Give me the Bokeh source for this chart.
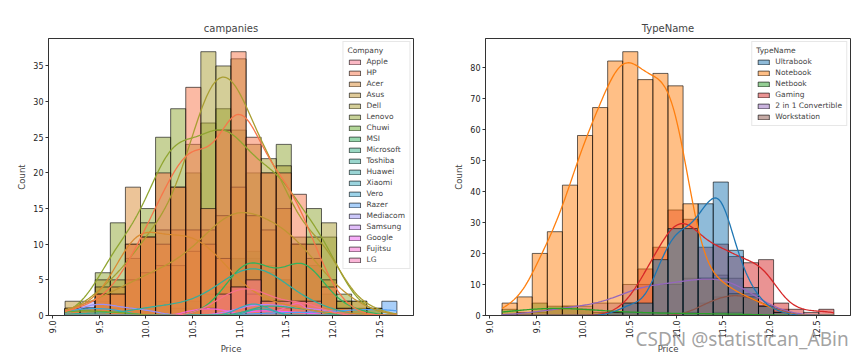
import math
import numpy as np
from bokeh.plotting import figure
from bokeh.layouts import row
from bokeh.models import FixedTicker, Legend, LegendItem, LinearAxis, PrintfTickFormatter
from bokeh.embed import file_html
from bokeh.resources import INLINE

# ---------------- data ----------------
price_min = 9.134
price_max = 12.69
n_bins = 22

companies = ["Apple", "HP", "Acer", "Asus", "Dell", "Lenovo", "Chuwi", "MSI", "Microsoft",
             "Toshiba", "Huawei", "Xiaomi", "Vero", "Razer", "Mediacom", "Samsung",
             "Google", "Fujitsu", "LG"]

apple     = [0, 0, 0, 0, 0, 0, 0, 0, 0, 1, 3, 4, 5, 2, 2, 2, 2, 0, 0, 0, 0, 0]
hp        = [1, 1, 3, 3, 10, 11, 20, 18, 32, 15, 26, 37, 25, 20, 20, 17, 10, 4, 1, 0, 0, 0]
acer      = [1, 1, 3, 4, 18, 11, 10, 12, 12, 10, 8, 4, 3, 2, 1, 2, 0, 0, 1, 0, 0, 0]
asus      = [2, 0, 4, 3, 5, 6, 7, 7, 9, 12, 14, 18, 14, 12, 15, 10, 8, 5, 2, 2, 0, 0]
dell      = [1, 1, 5, 5, 8, 13, 12, 18, 24, 37, 35, 36, 24, 22, 21, 10, 11, 13, 2, 2, 1, 0]
lenovo    = [0, 1, 6, 13, 10, 15, 25, 29, 20, 27, 29, 26, 20, 20, 24, 11, 15, 11, 3, 0, 1, 0]
chuwi     = [1, 1, 0, 1, 0, 0, 0, 0, 0, 0, 0, 0, 0, 0, 0, 0, 0, 0, 0, 0, 0, 0]
msi       = [0, 0, 0, 0, 0, 0, 0, 0, 0, 1, 3, 8, 9, 6, 5, 10, 7, 3, 1, 1, 0, 0]
microsoft = [0, 0, 0, 0, 0, 0, 0, 0, 0, 0, 0, 0, 1, 2, 1, 1, 1, 0, 0, 0, 0, 0]
toshiba   = [0, 1, 0, 0, 1, 1, 2, 1, 2, 3, 4, 8, 8, 7, 5, 2, 2, 1, 0, 0, 0, 0]
huawei    = [0, 0, 0, 0, 0, 0, 0, 0, 0, 0, 0, 0, 1, 1, 0, 0, 0, 0, 0, 0, 0, 0]
xiaomi    = [0, 0, 0, 0, 0, 0, 0, 0, 0, 0, 0, 1, 2, 1, 0, 0, 0, 0, 0, 0, 0, 0]
vero      = [1, 1, 1, 1, 0, 0, 0, 0, 0, 0, 0, 0, 0, 0, 0, 0, 0, 0, 0, 0, 0, 0]
razer     = [0, 0, 0, 0, 0, 0, 0, 0, 0, 0, 0, 0, 0, 1, 0, 1, 0, 0, 1, 1, 1, 2]
mediacom  = [0, 2, 2, 1, 1, 1, 0, 0, 0, 0, 0, 0, 0, 0, 0, 0, 0, 0, 0, 0, 0, 0]
samsung   = [0, 0, 0, 0, 0, 0, 0, 0, 0, 0, 0, 1, 2, 2, 1, 1, 1, 1, 0, 0, 0, 0]
google    = [0, 0, 0, 0, 0, 0, 0, 0, 0, 0, 0, 0, 1, 1, 0, 1, 0, 0, 0, 0, 0, 0]
fujitsu   = [0, 0, 0, 0, 0, 0, 0, 0, 1, 1, 1, 0, 0, 0, 0, 0, 0, 0, 0, 0, 0, 0]
lg        = [0, 0, 0, 0, 0, 0, 0, 0, 0, 0, 0, 0, 0, 0, 1, 2, 0, 0, 0, 0, 0, 0]

company_counts = [apple, hp, acer, asus, dell, lenovo, chuwi, msi, microsoft, toshiba,
                  huawei, xiaomi, vero, razer, mediacom, samsung, google, fujitsu, lg]

type_names = ["Ultrabook", "Notebook", "Netbook", "Gaming", "2 in 1 Convertible", "Workstation"]
ultrabook   = [0, 0, 0, 0, 0, 0, 0, 1, 4, 4, 18, 28, 28, 36, 43, 21, 9, 3, 1, 0, 0, 0]
notebook    = [4, 6, 20, 27, 42, 58, 67, 82, 85, 76, 78, 74, 36, 12, 12, 7, 6, 3, 1, 0, 0, 0]
netbook     = [2, 1, 4, 3, 3, 2, 1, 1, 1, 1, 1, 0, 1, 0, 1, 1, 0, 0, 0, 0, 0, 0]
gaming      = [0, 0, 0, 0, 0, 0, 0, 1, 4, 15, 22, 34, 31, 22, 23, 19, 17, 18, 4, 2, 1, 2]
convertible = [0, 1, 1, 2, 3, 3, 4, 4, 10, 10, 10, 10, 12, 12, 13, 12, 7, 3, 1, 0, 0, 0]
workstation = [0, 0, 0, 0, 0, 0, 0, 0, 0, 0, 0, 0, 1, 4, 6, 7, 6, 3, 2, 0, 0, 0]
type_counts = [ultrabook, notebook, netbook, gaming, convertible, workstation]

x_ticks = [9.0, 9.5, 10.0, 10.5, 11.0, 11.5, 12.0, 12.5]
y_ticks_left = [0, 5, 10, 15, 20, 25, 30, 35]
y_ticks_right = [0, 10, 20, 30, 40, 50, 60, 70, 80]

watermark = "CSDN @statistican_ABin"

# ---------------- palettes ----------------
_m = [[3.2406, -1.5372, -0.4986], [-0.9689, 1.8758, 0.0415], [0.0557, -0.2040, 1.0570]]
_refU, _refV, _refY = 0.19784, 0.46834, 1.0
_lab_e, _lab_k = 0.008856, 903.3


def _max_chroma(L, H):
    hrad = math.radians(H)
    sinH, cosH = math.sin(hrad), math.cos(hrad)
    sub1 = ((L + 16) ** 3) / 1560896.0
    sub2 = sub1 if sub1 > _lab_e else L / _lab_k
    result = float("inf")
    for m1, m2, m3 in _m:
        top = (0.99915 * m1 + 1.05122 * m2 + 1.14460 * m3) * sub2
        rbottom = 0.86330 * m3 - 0.17266 * m2
        lbottom = 0.12949 * m3 - 0.38848 * m1
        bottom = (rbottom * sinH + lbottom * cosH) * sub2
        for t in (0.0, 1.0):
            C = L * (top - 1.05122 * t) / (bottom + 0.17266 * sinH * t)
            if 0.0 < C < result:
                result = C
    return result


def _f_inv(t):
    return t ** 3 if t ** 3 > _lab_e else (116 * t - 16) / _lab_k


def _from_linear(c):
    return 12.92 * c if c <= 0.0031308 else 1.055 * math.pow(c, 1 / 2.4) - 0.055


def husl_to_hex(H, S, L):
    C = _max_chroma(L, H) / 100.0 * S
    hrad = math.radians(H)
    U, V = math.cos(hrad) * C, math.sin(hrad) * C
    varY = _f_inv((L + 16) / 116.0)
    varU = U / (13.0 * L) + _refU
    varV = V / (13.0 * L) + _refV
    Y = varY * _refY
    X = -(9.0 * Y * varU) / ((varU - 4.0) * varV - varU * varV)
    Z = (9.0 * Y - 15.0 * varV * Y - varV * X) / (3.0 * varV)
    rgb = []
    for row_ in _m:
        v = _from_linear(row_[0] * X + row_[1] * Y + row_[2] * Z)
        rgb.append(int(round(min(max(v, 0.0), 1.0) * 255)))
    return "#%02x%02x%02x" % tuple(rgb)


def husl_palette(n, h=0.01, s=0.9, l=0.65):
    hues = (np.linspace(0, 1, n + 1)[:-1] + h) % 1 * 359
    return [husl_to_hex(hh, s * 99, l * 99) for hh in hues]


company_colors = husl_palette(len(companies))
type_colors = ["#1f77b4", "#ff7f0e", "#2ca02c", "#d62728", "#9467bd", "#8c564b"]

# ---------------- helpers ----------------
edges = np.linspace(price_min, price_max, n_bins + 1)
centers = (edges[:-1] + edges[1:]) / 2
binw = edges[1] - edges[0]
grid = np.linspace(price_min, price_max, 250)
span = price_max - price_min
x_lo, x_hi = price_min - 0.05 * span, price_max + 0.05 * span

FONT = "DejaVu Sans"


def kde_counts(counts):
    w = np.asarray(counts, dtype=float)
    n = w.sum()
    mean = (w * centers).sum() / n
    var = (w * (centers - mean) ** 2).sum() / max(n - 1, 1) + binw ** 2 / 12
    bw = math.sqrt(var) * n ** (-0.2)
    pdf = (w[:, None] * np.exp(-0.5 * ((grid[None, :] - centers[:, None]) / bw) ** 2)).sum(0)
    pdf = pdf / (n * bw * math.sqrt(2 * math.pi))
    return pdf * n * binw


def make_fig(title, names, counts_list, colors, legend_title, y_max, y_ticks,
             width, border_left, border_right):
    p = figure(width=width, height=357, x_range=(x_lo, x_hi), y_range=(0, y_max),
               output_backend="svg", toolbar_location=None, title=title,
               min_border_left=border_left, min_border_right=border_right,
               min_border_top=38, min_border_bottom=40)
    bars = {}
    for name, cnt, col in reversed(list(zip(names, counts_list, colors))):
        bars[name] = p.quad(left=edges[:-1], right=edges[1:], bottom=0, top=cnt,
                            fill_color=col, fill_alpha=0.5, line_color="black",
                            line_alpha=0.6, line_width=1)
    for name, cnt, col in reversed(list(zip(names, counts_list, colors))):
        p.line(grid, kde_counts(cnt), line_color=col, line_width=1.3)

    items = [LegendItem(label=nm, renderers=[bars[nm]]) for nm in names]
    leg = Legend(items=items, title=legend_title, location="top_right")
    leg.label_text_font = FONT
    leg.label_text_font_size = "7.5px"
    leg.title_text_font = FONT
    leg.title_text_font_size = "7.5px"
    leg.title_text_font_style = "normal"
    leg.title_standoff = 2
    leg.glyph_width = 14
    leg.glyph_height = 6
    leg.label_height = 9
    leg.label_standoff = 5
    leg.spacing = 2
    leg.padding = 4
    leg.margin = 3
    leg.border_line_color = "#d0d0d0"
    leg.background_fill_alpha = 0.85
    p.add_layout(leg)

    p.title.text_font = FONT
    p.title.text_font_size = "10px"
    p.title.text_font_style = "normal"
    p.title.align = "center"
    p.grid.visible = False
    p.outline_line_color = "#333333"
    p.xaxis.ticker = FixedTicker(ticks=x_ticks)
    p.xaxis.formatter = PrintfTickFormatter(format="%.1f")
    p.xaxis.major_label_orientation = math.pi / 2
    p.yaxis.ticker = FixedTicker(ticks=y_ticks)
    p.xaxis.axis_label = "Price"
    p.yaxis.axis_label = "Count"
    for ax in (p.xaxis[0], p.yaxis[0]):
        ax.minor_tick_line_color = None
        ax.major_tick_in = 0
        ax.major_tick_out = 3
        ax.axis_line_color = "#333333"
        ax.major_tick_line_color = "#333333"
        ax.major_label_text_font = FONT
        ax.major_label_text_font_size = "8px"
        ax.major_label_text_color = "#222222"
        ax.major_label_standoff = 2
        ax.axis_label_text_font = FONT
        ax.axis_label_text_font_size = "8.5px"
        ax.axis_label_text_font_style = "normal"
        ax.axis_label_standoff = 3
    return p


p1 = make_fig("campanies", companies, company_counts, company_colors, "Company",
              float(np.max(company_counts)) * 1.05, y_ticks_left, 432, 48, 19)
p2 = make_fig("TypeName", type_names, type_counts, type_colors, "TypeName",
              float(np.max(type_counts)) * 1.05, y_ticks_right, 433, 53, 15)

# watermark drawn as the label of a bare extra axis, pulled up over the x labels;
# leading no-break spaces push the centred label towards the right edge
wm_axis = LinearAxis(ticker=FixedTicker(ticks=[]), axis_label="\u00a0" * 30 + watermark)
wm_axis.axis_line_color = None
wm_axis.major_tick_line_color = None
wm_axis.minor_tick_line_color = None
wm_axis.major_label_text_font_size = "0px"
wm_axis.axis_label_text_font = "Noto Sans"
wm_axis.axis_label_text_font_size = "19px"
wm_axis.axis_label_text_font_style = "normal"
wm_axis.axis_label_text_color = "#8a8a8a"
wm_axis.axis_label_text_alpha = 0.8
wm_axis.axis_label_standoff = -32
wm_axis.axis_label_align = "center"
p2.add_layout(wm_axis, "below")

layout = row(p1, p2)
open("out.html", "w").write(file_html(layout, INLINE))
